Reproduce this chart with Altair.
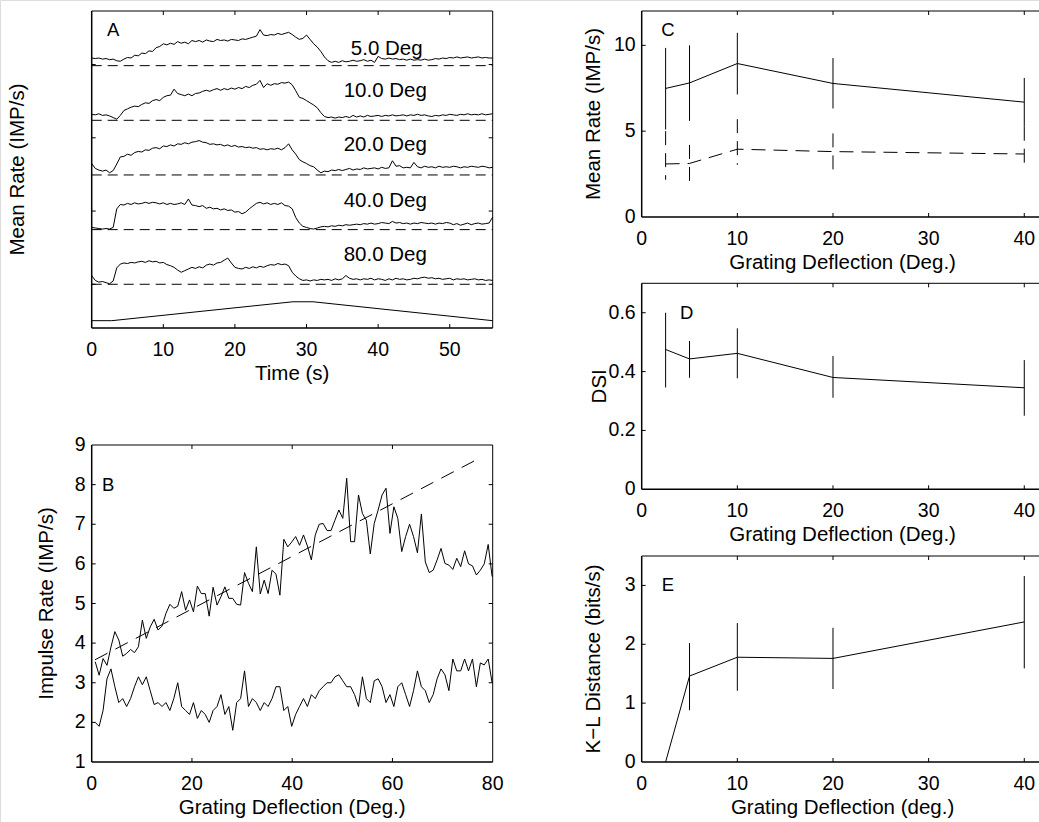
import altair as alt
import pandas as pd

FONT = "Liberation Sans"
FS = 19.5     # tick labels
FT = 20.5     # axis titles
TL = 4

# ---------------- Panel A data ----------------
A_BASE = [48, 38, 28, 18, 8]
A_LABELS = ["5.0 Deg", "10.0 Deg", "20.0 Deg", "40.0 Deg", "80.0 Deg"]
A_LABEL_T = [41.2, 41.0, 41.0, 41.0, 41.0]
A_LABEL_Y = [51.0, 43.4, 33.4, 23.2, 13.4]
A_DT = 0.5
A_TR1 = [1.4,1.3,1.4,1.2,1.3,1.1,1.2,0.9,0.8,1.2,
         1.5,1.4,1.9,1.8,2.3,2.2,2.7,2.6,3.3,3.5,
         4.0,3.8,4.1,3.9,4.4,4.1,4.3,4.0,4.6,4.4,
         4.6,4.3,4.7,4.5,4.4,4.8,4.6,4.7,4.5,4.8,
         4.7,4.6,4.9,4.8,5.0,5.2,5.4,6.6,5.6,5.5,
         5.7,5.6,5.9,5.7,5.9,6.1,5.7,5.2,4.8,5.0,
         5.6,4.8,4.0,3.4,2.6,1.6,0.9,0.6,0.8,0.6,
         0.9,0.7,0.8,1.0,0.8,0.9,1.1,0.8,1.0,0.6,
         1.7,1.3,1.2,1.4,1.2,1.3,1.1,1.2,1.0,1.2,
         1.0,1.1,1.0,1.2,1.0,1.1,1.3,1.2,1.4,1.3,
         1.5,1.4,1.6,1.4,1.5,1.6,1.4,1.5,1.6,1.4,
         1.5,1.4,1.4]
A_TR2 = [1.1,1.0,1.2,0.9,1.0,0.8,0.5,0.2,0.9,1.8,
         2.1,2.4,2.6,2.5,2.9,3.2,3.1,3.6,3.8,3.6,
         4.2,4.5,4.6,5.7,4.9,4.7,4.5,4.8,4.5,4.9,
         5.0,5.3,5.5,5.3,5.6,5.8,5.5,5.8,5.6,5.9,
         5.7,6.0,5.8,6.2,6.0,6.4,6.6,7.3,6.0,6.7,
         6.4,6.7,6.6,6.9,6.8,7.0,6.5,5.4,4.2,4.0,
         3.6,3.2,2.8,2.3,1.4,0.7,0.5,0.6,0.4,0.6,
         0.5,0.7,0.5,0.9,0.6,0.8,0.6,0.9,0.7,0.8,
         0.9,0.7,0.9,0.8,1.0,0.8,0.9,1.0,0.8,1.0,
         0.9,1.1,0.9,1.0,0.8,0.7,0.9,0.8,1.0,0.9,
         1.1,1.0,0.9,1.1,1.0,1.2,1.0,1.1,1.0,1.2,
         1.0,1.1,1.2]
A_TR3 = [2.1,1.2,0.9,0.7,0.9,0.4,0.8,2.0,3.3,3.4,
         3.8,3.6,4.1,4.3,4.2,4.6,4.5,4.9,5.0,4.8,
         5.3,5.2,5.5,5.3,5.7,5.6,5.9,5.7,6.0,6.1,
         6.3,6.0,5.9,5.6,5.7,5.5,5.6,5.3,5.5,5.2,
         5.4,5.1,5.2,5.0,5.1,4.9,5.0,4.7,4.8,4.6,
         4.8,4.7,4.9,4.6,5.0,5.7,4.6,3.8,2.8,2.4,
         2.1,1.7,1.5,0.9,0.4,0.7,0.6,0.9,0.8,1.0,
         0.8,1.0,1.2,0.9,1.1,1.0,1.3,1.1,1.2,1.3,
         1.1,1.4,1.2,1.3,2.6,1.6,1.7,1.3,1.4,1.3,
         2.3,1.5,1.3,1.6,1.4,1.5,1.3,1.6,1.4,1.5,
         1.4,1.6,1.5,1.3,1.5,1.4,1.6,1.5,1.4,1.6,
         1.5,1.3,1.4]
A_TR4 = [0.4,0.3,0.2,0.1,0.2,0.1,0.4,3.8,4.6,4.5,
         4.8,4.6,4.9,4.7,4.8,5.0,4.8,5.0,4.9,4.7,
         4.9,4.6,4.8,4.6,4.7,4.9,4.6,5.6,4.5,4.4,
         4.2,4.4,3.9,4.1,3.8,3.9,3.6,3.8,3.5,3.6,
         3.2,3.3,2.9,3.2,3.8,4.3,4.8,5.0,4.7,4.9,
         4.6,4.8,4.6,4.9,4.4,4.3,3.8,2.2,1.2,0.6,
         0.4,0.2,0.1,0.3,0.5,0.6,0.5,0.7,0.6,0.8,
         0.7,0.9,0.8,0.9,1.0,0.9,1.1,1.0,1.2,1.0,
         1.1,1.3,1.2,1.1,1.5,1.2,1.3,1.1,1.2,1.0,
         1.2,1.1,1.3,1.2,1.1,1.2,1.0,1.2,1.1,1.3,
         1.2,0.9,1.1,0.8,1.0,1.2,0.9,1.1,1.2,1.0,
         1.1,1.2,2.3]
A_TR5 = [1.6,0.7,0.4,0.5,0.3,0.1,0.6,3.0,3.7,3.9,
         3.8,4.0,3.9,4.1,4.2,4.0,4.3,4.1,4.2,3.9,
         4.0,3.6,3.4,3.1,2.6,2.2,2.5,2.8,3.1,2.9,
         3.2,3.0,3.5,3.7,3.5,3.9,4.0,4.4,4.8,3.9,
         3.1,2.9,2.8,3.1,2.9,3.2,3.0,3.3,3.1,3.4,
         3.6,3.5,3.8,3.6,3.7,3.4,2.2,1.5,1.0,0.7,
         0.8,0.6,0.8,0.7,0.9,0.8,0.9,0.7,1.0,0.8,
         1.0,1.6,1.1,0.9,1.0,0.8,1.0,0.9,1.1,0.8,
         1.0,0.9,0.7,1.0,0.8,1.1,0.9,1.0,0.8,0.9,
         1.1,1.0,1.2,1.3,1.1,1.2,1.0,1.1,0.9,1.0,
         1.1,0.8,1.0,0.9,1.0,0.8,0.9,1.0,0.8,0.9,
         0.7,0.8,0.7]
A_TRACES = [A_TR1, A_TR2, A_TR3, A_TR4, A_TR5]
A_STIM_T = [0, 2.8, 28.1, 30.9, 56]
A_STIM_V = [1.34, 1.34, 4.8, 4.8, 1.34]
A_XTICKS = [10, 20, 30, 40, 50]
A_XLABELS = [0, 10, 20, 30, 40, 50]
A_YTICKS = [8.0, 21.4, 34.8, 48.2]

# ---------------- Panel B data ----------------
B_X0, B_DX = 0.7, 0.784
B_UPPER = [3.53,3.19,3.61,3.44,3.90,4.29,4.08,3.67,3.74,3.84,
           3.76,3.91,4.58,4.12,4.41,4.60,4.33,4.43,4.75,4.98,
           4.88,4.93,5.30,4.83,5.09,4.79,5.44,5.25,5.25,4.68,
           5.41,4.96,5.17,5.42,5.13,5.13,4.98,4.96,5.78,5.51,
           5.30,6.43,5.24,5.59,5.25,5.84,5.74,5.21,6.62,6.43,
           6.55,6.69,6.47,6.73,6.45,6.10,6.73,7.00,7.02,6.84,
           6.84,7.10,7.36,7.15,8.16,6.56,6.56,7.74,7.27,7.10,
           6.25,7.02,7.36,7.74,7.91,6.77,7.44,7.15,6.31,6.69,
           7.00,6.69,6.28,7.26,6.05,5.78,5.84,6.10,6.39,6.01,
           5.97,5.86,6.14,5.93,6.33,6.00,5.95,5.72,5.84,6.00,
           6.49,5.68]
B_LOWER = [2.0,1.9,2.3,3.1,3.35,2.9,2.5,2.6,2.4,2.6,
           2.9,3.15,2.95,3.15,2.8,2.45,2.5,2.4,2.5,2.3,
           2.6,3.0,2.4,2.3,2.2,2.5,2.1,2.3,2.2,2.0,
           2.3,2.4,2.7,2.2,2.4,1.8,2.5,2.6,3.3,2.4,
           2.6,2.5,2.3,2.5,2.4,2.6,2.9,2.9,2.3,2.4,
           1.9,2.2,2.4,2.6,2.4,2.7,2.6,2.8,2.9,3.0,
           3.0,3.15,3.2,3.05,2.9,2.9,2.7,2.4,3.15,2.6,
           2.5,3.05,3.1,2.9,2.5,2.7,2.4,2.9,3.0,2.7,
           2.4,2.8,3.3,2.9,2.8,2.5,2.7,3.1,3.35,3.2,
           2.8,3.6,3.3,3.3,3.6,3.3,3.6,2.9,3.5,3.45,
           3.6,3.0]
B_FIT_X = [0.66, 77.7]
B_FIT_Y = [3.58, 8.69]
B_XTICKS = [20, 40, 60]
B_XLABELS = [0, 20, 40, 60, 80]
B_YTICKS = [2, 3, 4, 5, 6, 7, 8]
B_YLABELS = [1, 2, 3, 4, 5, 6, 7, 8, 9]

# ---------------- Panels C, D, E data ----------------
DEFL = [2.5, 5, 10, 20, 40]
C_SOLID = [7.49, 7.81, 8.94, 7.78, 6.69]
C_SOLID_LO = [5.10, 5.60, 7.14, 6.32, 5.26]
C_SOLID_HI = [9.85, 10.0, 10.73, 9.26, 8.10]
C_DASH = [3.09, 3.12, 3.95, 3.81, 3.67]
C_DASH_LO = [2.17, 2.07, 3.04, 2.71, 2.71]
C_DASH_HI = [5.00, 4.20, 5.70, 4.87, 5.26]
D_DSI = [0.475, 0.443, 0.462, 0.380, 0.345]
D_LO = [0.346, 0.379, 0.377, 0.311, 0.250]
D_HI = [0.600, 0.504, 0.547, 0.453, 0.439]
E_KL = [0.0, 1.46, 1.78, 1.76, 2.38]
E_LO = [None, 0.88, 1.21, 1.24, 1.59]
E_HI = [None, 2.02, 2.36, 2.28, 3.16]
R_XTICKS = [10, 20, 30, 40]
R_XLABELS = [0, 10, 20, 30, 40]
C_YLABELS = [0, 5, 10]
D_YLABELS = [0, 0.2, 0.4, 0.6]
E_YLABELS = [0, 1, 2, 3]

# ---------------- layout (pixel geometry of each plot box) ----------------
RXR = [641.7, 1043.4]
P = {
    "A": dict(xd=[0, 56], xr=[91.7, 492.7], yd=[0, 58], yr=[328, 11], box=True),
    "B": dict(xd=[0, 80], xr=[91.7, 492.7], yd=[1, 9], yr=[762, 445], box=True),
    "C": dict(xd=[0, 42], xr=RXR, yd=[0, 12], yr=[217, 11], box=False),
    "D": dict(xd=[0, 42], xr=RXR, yd=[0, 0.7], yr=[489.3, 283.3], box=False),
    "E": dict(xd=[0, 42], xr=RXR, yd=[0, 3.5], yr=[762, 556], box=False),
}


def sx(p):
    return alt.Scale(domain=p["xd"], range=p["xr"], nice=False, zero=False)


def sy(p):
    return alt.Scale(domain=p["yd"], range=p["yr"], nice=False, zero=False)


def X(f, p):
    return alt.X(f, type="quantitative", scale=sx(p), axis=None)


def Y(f, p):
    return alt.Y(f, type="quantitative", scale=sy(p), axis=None)


layers = []


def add_frame(p, xticks, yticks):
    x0, x1 = p["xd"]
    y0, y1 = p["yd"]
    xb, xt = p["xr"]
    yb, yt = p["yr"]
    layers.append(alt.Chart(pd.DataFrame({"a": [x0], "b": [x1], "y": [y1]})).mark_rule(
        color="black", strokeWidth=1).encode(x=X("a", p), x2="b", y=Y("y", p)))
    if p["box"]:
        layers.append(alt.Chart(pd.DataFrame({"x": [x1], "a": [y0], "b": [y1]})).mark_rule(
            color="black", strokeWidth=1).encode(x=X("x", p), y=Y("a", p), y2="b"))
    layers.append(alt.Chart(pd.DataFrame({"a": [x0], "b": [x1], "y": [y0]})).mark_rule(
        color="black", strokeWidth=1.5).encode(x=X("a", p), x2="b", y=Y("y", p)))
    layers.append(alt.Chart(pd.DataFrame({"x": [x0], "a": [y0], "b": [y1]})).mark_rule(
        color="black", strokeWidth=1.5).encode(x=X("x", p), y=Y("a", p), y2="b"))
    dx = pd.DataFrame({"v": xticks})
    dy = pd.DataFrame({"v": yticks})
    layers.append(alt.Chart(dx).mark_rule(color="black", strokeWidth=1).encode(
        x=X("v", p), y=alt.value(yb), y2=alt.value(yb - TL)))
    layers.append(alt.Chart(dx).mark_rule(color="black", strokeWidth=1).encode(
        x=X("v", p), y=alt.value(yt), y2=alt.value(yt + TL)))
    if yticks:
        layers.append(alt.Chart(dy).mark_rule(color="black", strokeWidth=1).encode(
            y=Y("v", p), x=alt.value(xb), x2=alt.value(xb + TL)))
        if p["box"]:
            layers.append(alt.Chart(dy).mark_rule(color="black", strokeWidth=1).encode(
                y=Y("v", p), x=alt.value(xt - TL), x2=alt.value(xt)))


def add_labels(p, xlabels, ylabels, xtitle, ytitle, ytitle_x, yfmt=None):
    xb, xt = p["xr"]
    yb, yt = p["yr"]
    layers.append(alt.Chart(pd.DataFrame({"v": xlabels, "s": [str(v) for v in xlabels]}))
                  .mark_text(font=FONT, fontSize=FS, color="black", align="center",
                             baseline="middle").encode(
        x=X("v", p), y=alt.value(yb + 22), text="s:N"))
    if ylabels:
        strs = [yfmt(v) if yfmt else str(v) for v in ylabels]
        layers.append(alt.Chart(pd.DataFrame({"v": ylabels, "s": strs}))
                      .mark_text(font=FONT, fontSize=FS, color="black", align="right",
                                 baseline="middle").encode(
            y=Y("v", p), x=alt.value(xb - 6), text="s:N"))
    layers.append(alt.Chart(pd.DataFrame({"s": [xtitle]})).mark_text(
        font=FONT, fontSize=FT, color="black", align="center", baseline="middle").encode(
        x=alt.value((xb + xt) / 2), y=alt.value(yb + 46), text="s:N"))
    layers.append(alt.Chart(pd.DataFrame({"s": [ytitle]})).mark_text(
        font=FONT, fontSize=FT, color="black", align="center", baseline="middle",
        angle=270).encode(
        x=alt.value(ytitle_x), y=alt.value((yb + yt) / 2), text="s:N"))


def letter(txt, x, y, p, size=18.5):
    layers.append(alt.Chart(pd.DataFrame({"x": [x], "y": [y], "t": [txt]})).mark_text(
        font=FONT, fontSize=size, color="black", align="center", baseline="middle"
    ).encode(x=X("x", p), y=Y("y", p), text="t:N"))


def line(xv, yv, p, dash=None):
    kw = dict(color="black", strokeWidth=1)
    if dash:
        kw["strokeDash"] = dash
    layers.append(alt.Chart(pd.DataFrame({"x": xv, "y": yv})).mark_line(**kw).encode(
        x=X("x", p), y=Y("y", p), order="x:Q"))


def bars(xv, lo, hi, p, dash=None):
    d = pd.DataFrame({"x": xv, "lo": lo, "hi": hi}).dropna()
    kw = dict(color="black", strokeWidth=1)
    if dash:
        kw["strokeDash"] = dash
    layers.append(alt.Chart(d).mark_rule(**kw).encode(
        x=X("x", p), y=Y("hi", p), y2="lo"))


# ---------- Panel A ----------
pA = P["A"]
add_frame(pA, A_XTICKS, A_YTICKS)
add_labels(pA, A_XLABELS, [], "Time (s)", "Mean Rate (IMP/s)", 18)
layers.append(alt.Chart(pd.DataFrame({"a": [0] * 5, "b": [56] * 5, "y": A_BASE})).mark_rule(
    color="black", strokeWidth=1, strokeDash=[10, 6]).encode(x=X("a", pA), x2="b", y=Y("y", pA)))
line(A_STIM_T, A_STIM_V, pA)
for tr, base in zip(A_TRACES, A_BASE):
    line([i * A_DT for i in range(len(tr))], [v + base for v in tr], pA)
layers.append(alt.Chart(pd.DataFrame({"x": A_LABEL_T, "y": A_LABEL_Y, "t": A_LABELS})).mark_text(
    font=FONT, fontSize=20.5, color="black", align="center", baseline="middle").encode(
    x=X("x", pA), y=Y("y", pA), text="t:N"))
letter("A", 3.0, 54.5, pA)

# ---------- Panel B ----------
pB = P["B"]
bx = [round(B_X0 + B_DX * i, 3) for i in range(len(B_UPPER))]
add_frame(pB, B_XTICKS, B_YTICKS)
add_labels(pB, B_XLABELS, B_YLABELS, "Grating Deflection (Deg.)", "Impulse Rate (IMP/s)", 47)
line(B_FIT_X, B_FIT_Y, pB, dash=[14, 9])
line(bx, B_LOWER, pB)
line(bx, B_UPPER, pB)
letter("B", 3.3, 8.0, pB)

# ---------- Panel C ----------
pC = P["C"]
add_frame(pC, R_XTICKS, [5, 10])
add_labels(pC, R_XLABELS, C_YLABELS, "Grating Deflection (Deg.)", "Mean Rate (IMP/s)", 594)
bars(DEFL, C_SOLID_LO, C_SOLID_HI, pC)
bars(DEFL, C_DASH_LO, C_DASH_HI, pC, dash=[14, 8])
line(DEFL, C_SOLID, pC)
line(DEFL, C_DASH, pC, dash=[14, 8])
letter("C", 2.75, 10.9, pC)

# ---------- Panel D ----------
pD = P["D"]
add_frame(pD, R_XTICKS, [0.2, 0.4, 0.6])
add_labels(pD, R_XLABELS, D_YLABELS, "Grating Deflection (Deg.)", "DSI", 600,
           yfmt=lambda v: "0" if v == 0 else f"{v:.1f}")
bars(DEFL, D_LO, D_HI, pD)
line(DEFL, D_DSI, pD)
letter("D", 4.7, 0.6, pD)

# ---------- Panel E ----------
pE = P["E"]
add_frame(pE, R_XTICKS, [1, 2, 3])
add_labels(pE, R_XLABELS, E_YLABELS, "Grating Deflection (deg.)", "K\u2212L Distance (bits/s)", 594)
bars(DEFL, E_LO, E_HI, pE)
line(DEFL, E_KL, pE)
letter("E", 2.75, 3.0, pE)

chart = alt.layer(*layers).resolve_scale(x="independent", y="independent").properties(
    width=1039, height=822, padding=0,
    autosize=alt.AutoSizeParams(type="none")
).configure_view(strokeWidth=0).configure(background="white")

chart.save("out.html", embed_options={"renderer": "svg", "actions": False})
